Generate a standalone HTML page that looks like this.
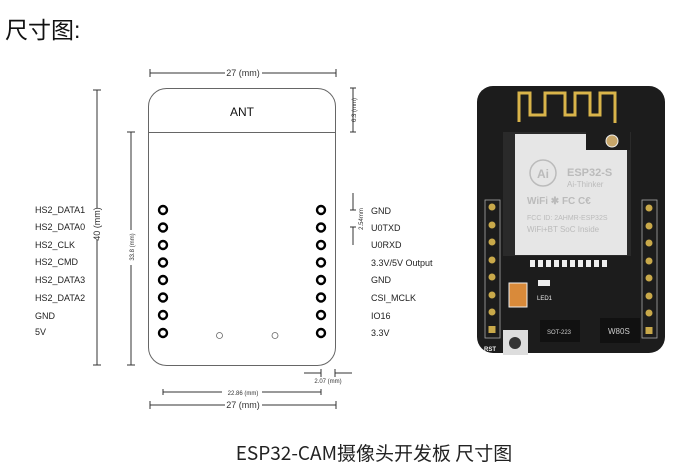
<!DOCTYPE html>
<html><head><meta charset="utf-8"><style>
body{margin:0;background:#fff;width:681px;height:470px;overflow:hidden;}
svg{display:block}
</style></head><body>
<svg width="681" height="470" xmlns="http://www.w3.org/2000/svg" font-family="Liberation Sans, sans-serif">
<text x="5" y="38" font-size="23" font-family="Liberation Sans, Noto Sans CJK SC, sans-serif" fill="#111">尺寸图:</text>
<text x="374" y="460" font-size="19" text-anchor="middle" font-family="Noto Sans CJK SC, sans-serif" fill="#222">ESP32-CAM摄像头开发板 尺寸图</text>
<g stroke="#333" fill="none" stroke-width="1">
<rect x="148.5" y="88.5" width="187" height="277" rx="18" stroke="#666"/>
<line x1="149" y1="132.5" x2="335" y2="132.5" stroke="#666"/>
<line x1="150" y1="73" x2="225" y2="73"/><line x1="262" y1="73" x2="336" y2="73"/>
<line x1="150" y1="69" x2="150" y2="77"/><line x1="336" y1="69" x2="336" y2="77"/>
<line x1="163" y1="392" x2="222" y2="392"/><line x1="262" y1="392" x2="321" y2="392"/>
<line x1="163" y1="389" x2="163" y2="395"/><line x1="321" y1="389" x2="321" y2="395"/>
<line x1="150" y1="405" x2="225" y2="405"/><line x1="262" y1="405" x2="336" y2="405"/>
<line x1="150" y1="401" x2="150" y2="409"/><line x1="336" y1="401" x2="336" y2="409"/>
<line x1="304" y1="373" x2="321" y2="373"/><line x1="321" y1="369" x2="321" y2="377"/>
<line x1="335" y1="373" x2="352" y2="373"/><line x1="335" y1="369" x2="335" y2="377"/>
<line x1="97" y1="90" x2="97" y2="208"/><line x1="97" y1="240" x2="97" y2="365"/>
<line x1="93" y1="90" x2="101" y2="90"/><line x1="93" y1="365" x2="101" y2="365"/>
<line x1="131" y1="132" x2="131" y2="230"/><line x1="131" y1="265" x2="131" y2="365"/>
<line x1="127" y1="132" x2="135" y2="132"/><line x1="127" y1="365" x2="135" y2="365"/>
<line x1="353" y1="88" x2="353" y2="132"/><line x1="350" y1="88" x2="356" y2="88"/><line x1="350" y1="132" x2="356" y2="132"/>
<line x1="353" y1="193" x2="353" y2="210"/><line x1="350" y1="210" x2="356" y2="210"/>
<line x1="353" y1="227" x2="353" y2="245"/><line x1="350" y1="227" x2="356" y2="227"/>
</g>
<g font-size="7" fill="#333">
<text x="243" y="76" text-anchor="middle" font-size="9">27 (mm)</text>
<text x="243" y="395" text-anchor="middle" font-size="6">22.86 (mm)</text>
<text x="243" y="408" text-anchor="middle" font-size="9">27 (mm)</text>
<text x="328" y="383" text-anchor="middle" font-size="6">2.07 (mm)</text>
<text transform="translate(100,224) rotate(-90)" text-anchor="middle" font-size="9">40 (mm)</text>
<text transform="translate(134,247) rotate(-90)" text-anchor="middle" font-size="6">33.8 (mm)</text>
<text transform="translate(356,110) rotate(-90)" text-anchor="middle" font-size="6">6.3 (mm)</text>
<text transform="translate(363,219) rotate(-90)" text-anchor="middle" font-size="6">2.54mm</text>
</g>
<text x="242" y="116" font-size="12" text-anchor="middle" fill="#111">ANT</text>
<g stroke="#000" stroke-width="2.4" fill="none">
<circle cx="163" cy="210" r="4"/><circle cx="163" cy="227.5" r="4"/><circle cx="163" cy="245" r="4"/><circle cx="163" cy="262.5" r="4"/><circle cx="163" cy="280" r="4"/><circle cx="163" cy="297.5" r="4"/><circle cx="163" cy="315" r="4"/><circle cx="163" cy="333" r="4"/>
<circle cx="321" cy="210" r="4"/><circle cx="321" cy="227.5" r="4"/><circle cx="321" cy="245" r="4"/><circle cx="321" cy="262.5" r="4"/><circle cx="321" cy="280" r="4"/><circle cx="321" cy="297.5" r="4"/><circle cx="321" cy="315" r="4"/><circle cx="321" cy="333" r="4"/>
</g>
<circle cx="219.5" cy="335.5" r="3" stroke="#666" fill="none" stroke-width="0.8"/>
<circle cx="275" cy="335.5" r="3" stroke="#666" fill="none" stroke-width="0.8"/>
<g font-size="9" fill="#222">
<text x="35" y="213">HS2_DATA1</text><text x="35" y="230">HS2_DATA0</text><text x="35" y="248">HS2_CLK</text><text x="35" y="265">HS2_CMD</text><text x="35" y="283">HS2_DATA3</text><text x="35" y="301">HS2_DATA2</text><text x="35" y="319">GND</text><text x="35" y="335">5V</text>
<text x="371" y="214">GND</text><text x="371" y="231">U0TXD</text><text x="371" y="248">U0RXD</text><text x="371" y="266">3.3V/5V Output</text><text x="371" y="283">GND</text><text x="371" y="301">CSI_MCLK</text><text x="371" y="319">IO16</text><text x="371" y="336">3.3V</text>
</g>
<rect x="477" y="86" width="188" height="267" rx="16" fill="#1c1c1c"/>
<path d="M519 122 V93 H530 V115 H545 V93 H565 V115 H575 V93 H590 V115 H600 V93 H615 V123" fill="none" stroke="#d9b44a" stroke-width="3"/>
<rect x="503" y="132" width="128" height="124" fill="#2a2a2a"/>
<rect x="515" y="134" width="112" height="121" fill="#e6e6e6"/>
<rect x="586" y="128" width="44" height="22" fill="#1c1c1c"/>
<circle cx="612" cy="141" r="6" fill="#c7a66a" stroke="#eee"/>
<circle cx="543" cy="173" r="13" fill="none" stroke="#bbb" stroke-width="1.5"/>
<text x="543" y="178" font-size="12" text-anchor="middle" fill="#bbb" font-weight="bold">Ai</text>
<text x="567" y="176" font-size="11" font-weight="bold" fill="#bbb">ESP32-S</text>
<text x="567" y="187" font-size="8" fill="#bbb">Ai-Thinker</text>
<text x="527" y="204" font-size="10" font-weight="bold" fill="#bbb">WiFi ✱ FC C€</text>
<text x="527" y="220" font-size="7" fill="#bbb">FCC ID: 2AHMR-ESP32S</text>
<text x="527" y="232" font-size="8" fill="#bbb">WiFi+BT SoC Inside</text>
<rect x="485" y="200" width="15" height="138" fill="none" stroke="#aaa" stroke-width="0.8"/>
<rect x="642" y="200" width="15" height="138" fill="none" stroke="#aaa" stroke-width="0.8"/>
<g fill="#c9a94a">
<circle cx="492" cy="207" r="3.5"/><circle cx="492" cy="225" r="3.5"/><circle cx="492" cy="242" r="3.5"/><circle cx="492" cy="260" r="3.5"/><circle cx="492" cy="277" r="3.5"/><circle cx="492" cy="295" r="3.5"/><circle cx="492" cy="312" r="3.5"/><rect x="488.5" y="326" width="7" height="7"/>
<circle cx="649" cy="208" r="3.5"/><circle cx="649" cy="226" r="3.5"/><circle cx="649" cy="243" r="3.5"/><circle cx="649" cy="261" r="3.5"/><circle cx="649" cy="278" r="3.5"/><circle cx="649" cy="296" r="3.5"/><circle cx="649" cy="313" r="3.5"/><rect x="645.5" y="327" width="7" height="7"/>
</g>
<rect x="509" y="283" width="18" height="24" fill="#d98a3a" stroke="#eee"/>
<rect x="503" y="330" width="25" height="25" fill="#ddd"/><circle cx="515" cy="343" r="6" fill="#333"/>
<text x="484" y="351" font-size="6" fill="#eee" font-weight="bold">RST</text>
<text x="537" y="300" font-size="6" fill="#eee">LED1</text>
<rect x="538" y="280" width="12" height="6" fill="#eee"/>
<rect x="600" y="318" width="40" height="25" fill="#111"/>
<text x="608" y="334" font-size="8" fill="#ccc">W80S</text>
<rect x="540" y="320" width="40" height="22" fill="#111"/>
<text x="547" y="334" font-size="6" fill="#ccc">SOT-223</text>
<g fill="#eee"><rect x="530" y="260" width="5" height="7"/><rect x="538" y="260" width="5" height="7"/><rect x="546" y="260" width="5" height="7"/><rect x="554" y="260" width="5" height="7"/><rect x="562" y="260" width="5" height="7"/><rect x="570" y="260" width="5" height="7"/><rect x="578" y="260" width="5" height="7"/><rect x="586" y="260" width="5" height="7"/><rect x="594" y="260" width="5" height="7"/><rect x="602" y="260" width="5" height="7"/></g>
</svg>
</body></html>
